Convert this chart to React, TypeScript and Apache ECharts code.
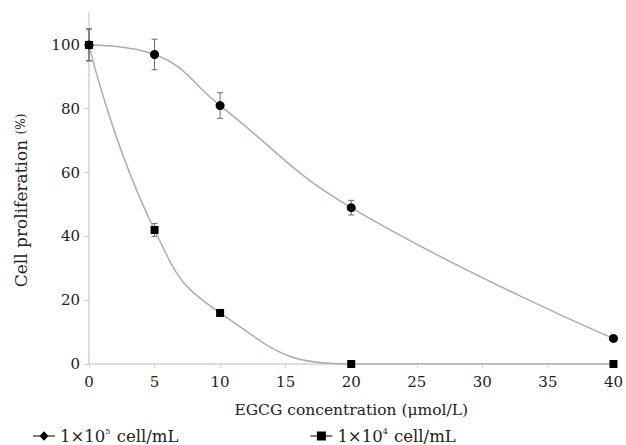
import React, { useEffect, useRef } from "react";
import * as echarts from "echarts";

const concentrations = [0, 5, 10, 20, 40];
const seriesNames = ["1×10^5 cell/mL", "1×10^4 cell/mL"];
const highDensity = [100, 97, 81, 49, 8];
const highDensityErr = [5, 4.8, 4, 2.3, 0.6];
const lowDensity = [100, 42, 16, 0, 0];
const lowDensityErr = [5, 2, 0.8, 0, 0];
const yTicks = [0, 20, 40, 60, 80, 100];

const FONT = "DejaVu Serif";
const LINE = "#b3aaa3";
const TEXT = "#222";

const diamondIcon =
  "path://M0,5.4L7,5.4L11,1.2L15,5.4L22,5.4L22,6.6L15,6.6L11,10.8L7,6.6L0,6.6Z";
const squareIcon =
  "path://M0,5.4L6.5,5.4L6.5,1.5L15.5,1.5L15.5,5.4L22,5.4L22,6.6L15.5,6.6L15.5,10.5L6.5,10.5L6.5,6.6L0,6.6Z";

function errorData(vals: number[], errs: number[]) {
  return concentrations.map((x, i) => [x, vals[i] - errs[i], vals[i] + errs[i]]);
}

function renderErr(params: any, api: any) {
  const x = api.value(0);
  const lo = api.value(1);
  const hi = api.value(2);
  if (hi - lo < 0.5) return null;
  const pLo = api.coord([x, lo]);
  const pHi = api.coord([x, hi]);
  const w = 3;
  const style = { stroke: "#6e6762", lineWidth: 1 };
  return {
    type: "group",
    children: [
      { type: "line", shape: { x1: pLo[0], y1: pLo[1], x2: pHi[0], y2: pHi[1] }, style },
      { type: "line", shape: { x1: pHi[0] - w, y1: pHi[1], x2: pHi[0] + w, y2: pHi[1] }, style },
      { type: "line", shape: { x1: pLo[0] - w, y1: pLo[1], x2: pLo[0] + w, y2: pLo[1] }, style },
    ],
  };
}

export default function App() {
  const ref = useRef<HTMLDivElement>(null);
  useEffect(() => {
    if (!ref.current) return;
    const chart = echarts.init(ref.current, undefined, { renderer: "svg" });
    chart.setOption({
      animation: false,
      backgroundColor: "#ffffff",
      textStyle: { fontFamily: FONT },
      grid: { left: 89, right: 7, top: 13, bottom: 81 },
      legend: {
        left: 28,
        top: 422,
        itemWidth: 22,
        itemHeight: 12,
        itemGap: 132,
        data: [
          { name: seriesNames[0], icon: diamondIcon },
          { name: seriesNames[1], icon: squareIcon },
        ],
        formatter: (name: string) => {
          const [base, exp] = name.split("^");
          const rest = exp.split(" ");
          return base + "{sup|" + rest[0] + "} " + rest.slice(1).join(" ");
        },
        textStyle: {
          fontFamily: FONT,
          fontSize: 16.5,
          color: TEXT,
          rich: {
            sup: { fontSize: 8, fontFamily: FONT, color: TEXT, padding: [0, 1, 10, 0] },
          },
        },
      },
      xAxis: {
        type: "value",
        min: 0,
        max: 40,
        interval: 5,
        name: "EGCG concentration (μmol/L)",
        nameLocation: "middle",
        nameGap: 38,
        nameTextStyle: { fontFamily: FONT, fontSize: 15.5, color: TEXT },
        axisLine: { lineStyle: { color: "#d6d1cc", width: 1.5 } },
        axisTick: { show: true, length: 4, lineStyle: { color: "#d6d1cc" } },
        splitLine: { show: false },
        axisLabel: { fontFamily: FONT, fontSize: 15, color: TEXT, margin: 10 },
      },
      yAxis: {
        type: "value",
        min: 0,
        max: 110,
        interval: 20,
        name: "Cell proliferation {s|(%)}",
        nameLocation: "middle",
        nameGap: 60,
        nameTextStyle: {
          fontFamily: FONT,
          fontSize: 17,
          color: TEXT,
          padding: [0, 24, 0, 0],
          rich: { s: { fontSize: 12, fontFamily: FONT, color: TEXT } },
        },
        axisLine: { show: true, lineStyle: { color: "#d6d1cc", width: 1.5 } },
        axisTick: { show: true, length: 5, lineStyle: { color: "#d6d1cc" }, customValues: yTicks },
        splitLine: { show: false },
        axisLabel: {
          fontFamily: FONT,
          fontSize: 15,
          color: TEXT,
          margin: 9,
          customValues: yTicks,
        },
      },
      series: [
        {
          name: seriesNames[0],
          type: "line",
          smooth: 0.45,
          data: concentrations.map((x, i) => [x, highDensity[i]]),
          symbol: "circle",
          symbolSize: 9,
          itemStyle: { color: "#000" },
          lineStyle: { color: LINE, width: 1.5 },
          z: 3,
        },
        {
          name: seriesNames[1],
          type: "line",
          smooth: 0.5,
          data: concentrations.map((x, i) => [x, lowDensity[i]]),
          symbol: "rect",
          symbolSize: 8,
          itemStyle: { color: "#000" },
          lineStyle: { color: LINE, width: 1.5 },
          z: 3,
        },
        {
          type: "custom",
          renderItem: renderErr,
          data: errorData(highDensity, highDensityErr),
          encode: { x: 0, y: [1, 2] },
          z: 2,
          silent: true,
        },
        {
          type: "custom",
          renderItem: renderErr,
          data: errorData(lowDensity, lowDensityErr),
          encode: { x: 0, y: [1, 2] },
          z: 2,
          silent: true,
        },
      ],
    });
    return () => chart.dispose();
  }, []);
  return (
    <div
      ref={ref}
      style={{ position: "fixed", left: 0, top: 0, width: 626, height: 445 }}
    />
  );
}
